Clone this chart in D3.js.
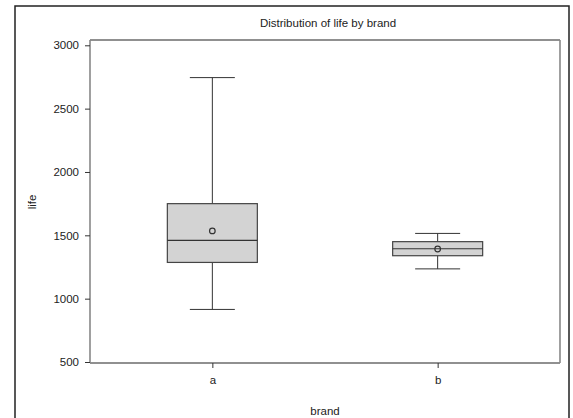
<!DOCTYPE html>
<html>
<head>
<meta charset="utf-8">
<script src="https://cdn.jsdelivr.net/npm/d3@7"></script>
<style>
  body { margin: 0; background: #fff; }
  svg { display: block; font-family: "Liberation Sans", Arial, sans-serif; }
</style>
</head>
<body>
<svg width="573" height="418"></svg>
<script>
// summary stats per brand
var brands = ["a", "b"],
    q1 = [1286, 1339],
    median = [1460, 1394],
    q3 = [1750, 1450],
    mean = [1535, 1392],
    whiskerLow = [915, 1235],
    whiskerHigh = [2745, 1515],
    yTicks = [500, 1000, 1500, 2000, 2500, 3000];

var svg = d3.select("svg"),
    plot = {left: 90, right: 560, top: 40, bottom: 363},
    fontSize = "11.5px";

// outer frame (bottom runs off the picture)
svg.append("path")
    .attr("d", "M15,420V6H569V420")
    .attr("fill", "none")
    .attr("stroke", "#222")
    .attr("stroke-width", 1.5);

var x = d3.scalePoint().domain(brands).range([plot.left, plot.right]).padding(0.543),
    y = d3.scaleLinear().domain([500, 3000]).range([362, 45.3]);

var boxW = 90, capW = 45;

// plot frame: top/bottom dark, sides gray
svg.append("line").attr("x1", plot.left).attr("x2", plot.right).attr("y1", plot.top).attr("y2", plot.top)
    .attr("stroke", "#222").attr("stroke-width", 1.2);
svg.append("line").attr("x1", plot.left).attr("x2", plot.right).attr("y1", plot.bottom).attr("y2", plot.bottom)
    .attr("stroke", "#222").attr("stroke-width", 1.2);
svg.append("line").attr("x1", plot.left).attr("x2", plot.left).attr("y1", plot.top).attr("y2", plot.bottom)
    .attr("stroke", "#888").attr("stroke-width", 1.6);
svg.append("line").attr("x1", plot.right).attr("x2", plot.right).attr("y1", plot.top).attr("y2", plot.bottom)
    .attr("stroke", "#888").attr("stroke-width", 1.6);

// y axis
var yAxis = svg.append("g")
    .attr("transform", "translate(" + plot.left + ",0)")
    .call(d3.axisLeft(y).tickValues(yTicks).tickFormat(d3.format("d")).tickSize(5).tickPadding(6).tickSizeOuter(0));
yAxis.select(".domain").remove();
yAxis.selectAll(".tick line").attr("stroke", "#333");
yAxis.selectAll(".tick text").style("font-size", fontSize).attr("fill", "#222");

// x axis
var xAxis = svg.append("g")
    .attr("transform", "translate(0," + plot.bottom + ")")
    .call(d3.axisBottom(x).tickSize(5).tickPadding(8).tickSizeOuter(0));
xAxis.select(".domain").remove();
xAxis.selectAll(".tick line").attr("stroke", "#333");
xAxis.selectAll(".tick text").style("font-size", fontSize).attr("fill", "#222");

// boxes
var boxes = svg.selectAll(".box")
    .data(brands)
    .enter().append("g")
      .attr("class", "box");

boxes.append("line")
    .attr("x1", function(d) { return x(d); })
    .attr("x2", function(d) { return x(d); })
    .attr("y1", function(d, i) { return y(whiskerLow[i]); })
    .attr("y2", function(d, i) { return y(whiskerHigh[i]); })
    .attr("stroke", "#333");

boxes.append("line")
    .attr("x1", function(d) { return x(d) - capW / 2; })
    .attr("x2", function(d) { return x(d) + capW / 2; })
    .attr("y1", function(d, i) { return y(whiskerHigh[i]); })
    .attr("y2", function(d, i) { return y(whiskerHigh[i]); })
    .attr("stroke", "#333");

boxes.append("line")
    .attr("x1", function(d) { return x(d) - capW / 2; })
    .attr("x2", function(d) { return x(d) + capW / 2; })
    .attr("y1", function(d, i) { return y(whiskerLow[i]); })
    .attr("y2", function(d, i) { return y(whiskerLow[i]); })
    .attr("stroke", "#333");

boxes.append("rect")
    .attr("x", function(d) { return x(d) - boxW / 2; })
    .attr("width", boxW)
    .attr("y", function(d, i) { return y(q3[i]); })
    .attr("height", function(d, i) { return y(q1[i]) - y(q3[i]); })
    .attr("fill", "#d3d3d3")
    .attr("stroke", "#444")
    .attr("stroke-width", 1.2);

boxes.append("line")
    .attr("x1", function(d) { return x(d) - boxW / 2; })
    .attr("x2", function(d) { return x(d) + boxW / 2; })
    .attr("y1", function(d, i) { return y(median[i]); })
    .attr("y2", function(d, i) { return y(median[i]); })
    .attr("stroke", "#333")
    .attr("stroke-width", 1.2);

boxes.append("circle")
    .attr("cx", function(d) { return x(d); })
    .attr("cy", function(d, i) { return y(mean[i]); })
    .attr("r", 2.8)
    .attr("fill", "none")
    .attr("stroke", "#333")
    .attr("stroke-width", 1.2);

// titles
svg.append("text")
    .attr("x", 328).attr("y", 27)
    .attr("text-anchor", "middle")
    .style("font-size", fontSize)
    .attr("fill", "#222")
    .text("Distribution of life by brand");

svg.append("text")
    .attr("x", 325).attr("y", 415)
    .attr("text-anchor", "middle")
    .style("font-size", fontSize)
    .attr("fill", "#222")
    .text("brand");

svg.append("text")
    .attr("transform", "translate(36,202) rotate(-90)")
    .attr("text-anchor", "middle")
    .style("font-size", fontSize)
    .attr("fill", "#222")
    .text("life");
</script>
</body>
</html>
